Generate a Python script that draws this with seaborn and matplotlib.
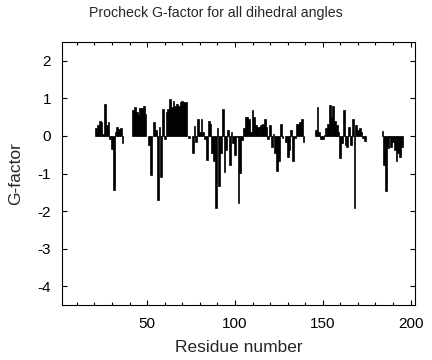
import pandas as pd
import matplotlib
matplotlib.use("Agg")
import matplotlib.pyplot as plt
import seaborn as sns
from matplotlib.ticker import MultipleLocator

sns.set_style("white")
plt.rcParams["font.family"] = ["Liberation Sans", "DejaVu Sans"]
plt.rcParams["axes.unicode_minus"] = False

# residue numbers 21..195 and their G-factor
residues = list(range(21, 196))
gfactor = [
    0.22, 0.30, 0.40, 0.38, 0.05, 0.85, 0.28, 0.38, -0.08, -0.35,   # 21-30
    -1.43, 0.10, 0.25, 0.18, 0.20, -0.18, 0, 0, 0, 0,              # 31-40
    0, 0.68, 0.76, 0.63, 0.55, 0.74, 0.74, 0.80, 0.59, 0.00,       # 41-50
    -0.25, -1.03, 0.00, 0.37, 0.15, -1.70, 0.24, -1.10, 0.72, -0.07,  # 51-60
    0.63, 0.72, 0.98, 0.76, 0.94, 0.80, 0.85, 0.80, 0.90, 0.94,    # 61-70
    0.90, 0.90, 0.00, -0.05, 0.00, -0.46, 0.26, -0.16, 0.46, 0.10,  # 71-80
    0.44, 0.10, -0.07, -0.64, 0.39, 0.32, -0.46, -0.68, -1.91, 0.21,  # 81-90
    -1.34, -0.46, 0.72, -0.95, -0.38, 0.15, -0.77, 0.10, -0.20, -0.51,  # 91-100
    -0.02, -1.78, -0.99, -0.10, 0.21, 0.50, 0.50, 0.46, 0.10, 0.68,  # 101-110
    0.50, 0.28, 0.24, 0.24, 0.28, 0.32, 0.46, 0.24, -0.07, 0.28,   # 111-120
    -0.29, 0.05, -0.46, -0.93, -0.68, 0.32, -0.05, 0.00, -0.16, -0.55,  # 121-130
    -0.38, 0.15, -0.68, -0.05, 0.32, 0.32, 0.37, 0.46, -0.16, 0,   # 131-140
    0, 0, 0, 0, 0, 0.15, 0.76, 0.10, -0.07, -0.07,                 # 141-150
    0.03, 0.20, 0.32, 0.82, 0.50, 0.80, 0.41, 0.28, 0.10, -0.60,   # 151-160
    -0.20, 0.68, -0.25, -0.29, 0.24, -0.25, 0.46, -1.91, 0.28, 0.15,  # 161-170
    0.20, 0.10, -0.05, -0.14, 0, 0, 0, 0, 0, 0,                    # 171-180
    0, 0, 0, 0.12, -0.77, -1.47, -0.33, -0.03, -0.29, -0.16,       # 181-190
    -0.38, -0.68, -0.46, -0.55, -0.29,                             # 191-195
]

df = pd.DataFrame({"Residue": residues, "G": gfactor})
df = df[df["G"] != 0]

fig = plt.figure(figsize=(4.32, 3.6), dpi=100)
ax = fig.add_axes([0.1435, 0.1528, 0.8171, 0.7305])

sns.barplot(data=df, x="Residue", y="G", native_scale=True, width=1,
            color="black", saturation=1, edgecolor="black", linewidth=0.5,
            errorbar=None, ax=ax)

ax.set_xlim(1.5, 202.5)
ax.set_ylim(-4.5, 2.5)
ax.xaxis.set_major_locator(MultipleLocator(50))
ax.xaxis.set_minor_locator(MultipleLocator(10))
ax.yaxis.set_major_locator(MultipleLocator(1))

for s in ax.spines.values():
    s.set_visible(True)
    s.set_color("black")
    s.set_linewidth(0.8)

ax.tick_params(which="both", direction="in", top=True, right=True,
               bottom=True, left=True, colors="black", width=0.8)
ax.tick_params(which="major", length=3.8, labelsize=11)
ax.tick_params(which="minor", length=2.2)
ax.tick_params(axis="x", which="major", pad=9)
ax.tick_params(axis="y", which="major", pad=8)

ax.set_xlabel("Residue number", fontsize=12.5, labelpad=6)
ax.set_ylabel("G-factor", fontsize=12.5, labelpad=10)
fig.suptitle("Procheck G-factor for all dihedral angles", fontsize=10.2,
             x=0.5, y=0.965, va="center")

fig.savefig("out.png", dpi=100)
